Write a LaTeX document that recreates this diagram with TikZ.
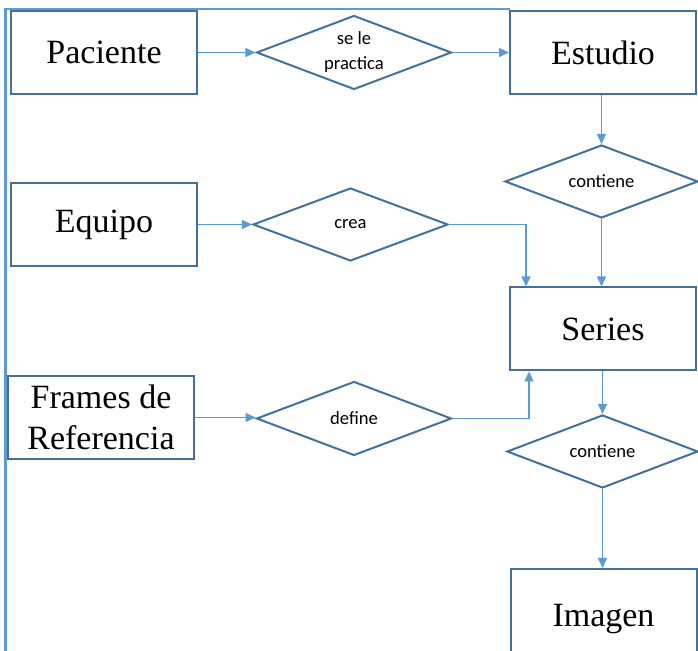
\documentclass[tikz,border=0pt]{standalone}
\usepackage{fontspec}
\setmainfont{Liberation Serif}
\newfontfamily\calibri{Carlito}
\usetikzlibrary{shapes.geometric, arrows.meta}
\definecolor{boxline}{HTML}{41719C}
\definecolor{arrowline}{HTML}{5B9BD5}

\tikzset{
  entidad/.style={rectangle, draw=boxline, line width=1pt, fill=white,
    minimum width=93pt, minimum height=41.5pt, inner sep=0pt,
    align=center, font=\fontsize{17}{20.5}\selectfont},
  relacion/.style={diamond, draw=boxline, line width=1pt, fill=white,
    minimum width=97.5pt, minimum height=37pt, inner sep=0pt, aspect=2.6,
    align=center, font=\calibri\fontsize{9.3}{12.5}\selectfont},
  flecha/.style={draw=arrowline, line width=0.6pt,
    -{Triangle[width=4.5pt,length=5pt]}}
}

\begin{document}
\begin{tikzpicture}[x=0.5pt, y=-0.5pt]

    \useasboundingbox (0,0) rectangle (698,651);
    \draw[arrowline, line width=1.1pt] (510,9) -- (5.5,9) -- (5.5,660);

    \node [entidad] (pac) at (104 , 52.5) {Paciente};
    \node [entidad] (est) at (603 , 52.5) {Estudio};
    \node [entidad] (equ) at (104 , 224.5) {\raisebox{-1.5pt}{Equipo}};
    \node [entidad] (ser) at (603 , 329) {Series};
    \node [entidad] (fra) at (101 , 417.5) {Frames de\\Referencia};
    \node [entidad, minimum height=50pt, anchor=north] (img) at (603.5 , 568) {\raisebox{-11.5pt}{Imagen}};

    \node [relacion] (dpr) at (354 , 52.5) {se le\\practica};
    \node [relacion, minimum width=96.5pt, minimum height=36.5pt] (dc1) at (601.5 , 181.5) {contiene};
    \node [relacion, minimum height=36.5pt] (dcr) at (350.5 , 224.5) {crea};
    \node [relacion] (ddf) at (354 , 418.5) {define};
    \node [relacion, minimum width=95.5pt, minimum height=36.5pt] (dc2) at (602.5 , 451.5) {contiene};

    \draw[flecha] (pac) -- (dpr);
    \draw[flecha] (dpr) -- (est);
    \draw[flecha] (est.south -| dc1.north) -- (dc1);
    \draw[flecha] (dc1) -- (ser.north -| dc1.south);
    \draw[flecha] (equ) -- (dcr);
    \draw[flecha] (dcr.east) -| ([xshift=8.5pt]ser.north west);
    \draw[flecha] (fra) -- (fra -| ddf.west);
    \draw[flecha] (ddf.east) -| ([xshift=10pt]ser.south west);
    \draw[flecha] (ser.south -| dc2.north) -- (dc2);
    \draw[flecha] (dc2) -- (img.north -| dc2.south);
\end{tikzpicture}
\end{document}
